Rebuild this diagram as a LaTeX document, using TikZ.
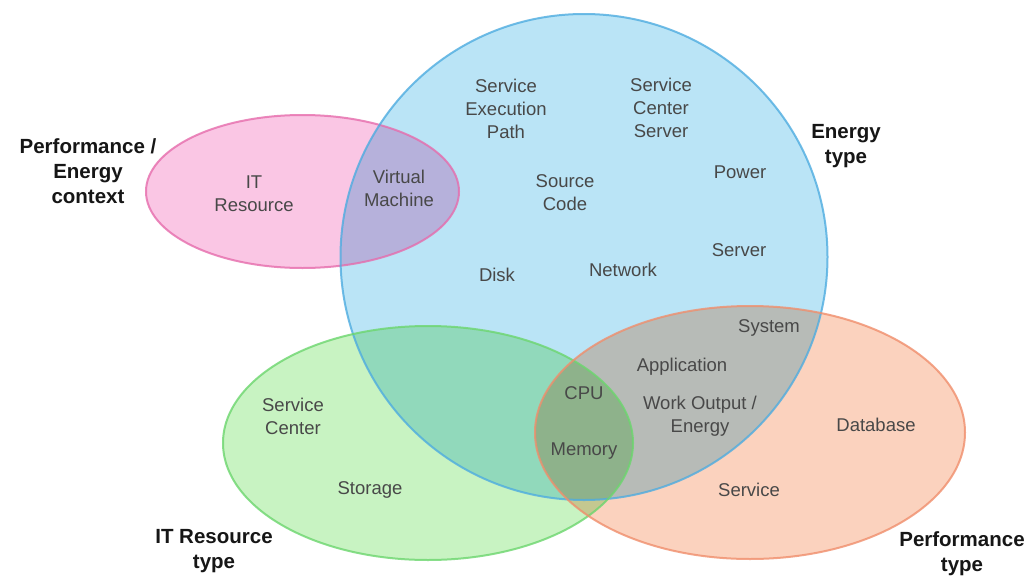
\documentclass[tikz,border=0pt]{standalone}
\usepackage{fontspec}
\setmainfont{Liberation Sans}
\definecolor{bluefill}{RGB}{186,228,246}
\definecolor{blueline}{RGB}{78,172,224}
\definecolor{pinkfill}{RGB}{250,198,228}
\definecolor{pinkline}{RGB}{230,108,172}
\definecolor{greenfill}{RGB}{200,243,194}
\definecolor{greenline}{RGB}{108,214,110}
\definecolor{orangefill}{RGB}{251,210,190}
\definecolor{orangeline}{RGB}{240,142,108}
\definecolor{itemtext}{RGB}{72,72,72}
\definecolor{headtext}{RGB}{22,22,22}
\begin{document}
\begin{tikzpicture}[x=1pt,y=-1pt,
  setfill/.style={blend mode=multiply},
  setline/.style={line width=2pt, draw opacity=0.8},
  item/.style={font=\fontsize{18.5}{23}\selectfont, text=itemtext, align=center, inner sep=0pt},
  head/.style={font=\fontsize{20.5}{25}\selectfont\bfseries, text=headtext, align=center, inner sep=0pt}]
\useasboundingbox (0,0) rectangle (1029,576);
\fill[white] (0,0) rectangle (1029,576);

% the four sets, multiplied so overlaps darken
\fill[setfill, pinkfill] (302.5,191.5) ellipse [x radius=156.5, y radius=76.5];
\fill[setfill, bluefill] (584,257) ellipse [x radius=243.5, y radius=243];
\fill[setfill, greenfill] (428,443) ellipse [x radius=205, y radius=117];
\fill[setfill, orangefill] (750,432.5) ellipse [x radius=215, y radius=126.5];

% outlines on top
\draw[setline, pinkline] (302.5,191.5) ellipse [x radius=156.5, y radius=76.5];
\draw[setline, blueline] (584,257) ellipse [x radius=243.5, y radius=243];
\draw[setline, greenline] (428,443) ellipse [x radius=205, y radius=117];
\draw[setline, orangeline] (750,432.5) ellipse [x radius=215, y radius=126.5];

% set titles
\node[head] (ctx) at (88,171) {Performance /\\Energy\\context};
\node[head] (etype) at (846,146) {Energy\\type};
\node[head] (ittype) at (214,551) {IT Resource\\type};
\node[head] (ptype) at (962,554) {Performance\\type};

% members
\node[item] (itres) at (254,194) {IT\\Resource};
\node[item] (vm) at (399,188) {Virtual\\Machine};
\node[item] (sep) at (506,109) {Service\\Execution\\Path};
\node[item] (scs) at (661,108) {Service\\Center\\Server};
\node[item] (src) at (565,193) {Source\\Code};
\node[item] (power) at (740,172) {Power};
\node[item] (server) at (739,250) {Server};
\node[item] (disk) at (497,275) {Disk};
\node[item] (net) at (623,270) {Network};
\node[item] (sys) at (769,328) {System};
\node[item] (app) at (682,367) {Application};
\node[item] (cpu) at (584,393) {CPU};
\node[item] (woe) at (700,416) {Work Output /\\Energy};
\node[item] (mem) at (584,451) {Memory};
\node[item] (sc) at (293,416) {Service\\Center};
\node[item] (stor) at (370,490) {Storage};
\node[item] (db) at (876,425) {Database};
\node[item] (svc) at (749,490) {Service};
\end{tikzpicture}
\end{document}
